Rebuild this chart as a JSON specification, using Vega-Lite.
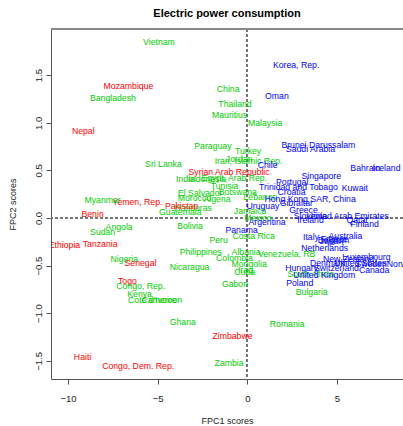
{
  "$schema": "https://vega.github.io/schema/vega-lite/v6.json",
  "autosize": "none",
  "padding": {"left": 51, "top": 29, "right": 0, "bottom": 47},
  "width": 352,
  "height": 350,
  "background": "white",
  "title": {"text": "Electric power consumption", "fontSize": 11, "fontWeight": "bold", "font": "Liberation Sans", "color": "#000", "anchor": "middle", "offset": 10},
  "config": {
    "view": {"stroke": null},
    "font": "Liberation Sans",
    "axis": {"grid": false, "domainColor": "#555", "tickColor": "#555", "tickSize": 5, "labelFont": "Liberation Sans", "labelFontSize": 9.5, "labelColor": "#222", "titleFont": "Liberation Sans", "titleFontSize": 9, "titleFontWeight": "normal", "titleColor": "#222"}
  },
  "data": {"values": [
    {"country": "Vietnam", "x": -4.93, "y": 1.849, "g": "r2"},
    {"country": "Mozambique", "x": -6.63, "y": 1.383, "g": "r1"},
    {"country": "Bangladesh", "x": -7.50, "y": 1.261, "g": "r2"},
    {"country": "Nepal", "x": -9.15, "y": 0.918, "g": "r1"},
    {"country": "Korea, Rep.", "x": 2.72, "y": 1.611, "g": "r3"},
    {"country": "China", "x": -1.07, "y": 1.359, "g": "r2"},
    {"country": "Oman", "x": 1.65, "y": 1.285, "g": "r3"},
    {"country": "Thailand", "x": -0.69, "y": 1.201, "g": "r2"},
    {"country": "Mauritius", "x": -0.99, "y": 1.079, "g": "r2"},
    {"country": "Malaysia", "x": 0.99, "y": 0.995, "g": "r2"},
    {"country": "Brunei Darussalam", "x": 3.96, "y": 0.764, "g": "r3"},
    {"country": "Saudi Arabia", "x": 3.52, "y": 0.722, "g": "r3"},
    {"country": "Paraguay", "x": -1.92, "y": 0.761, "g": "r2"},
    {"country": "Turkey", "x": 0.04, "y": 0.70, "g": "r2"},
    {"country": "Sri Lanka", "x": -4.68, "y": 0.572, "g": "r2"},
    {"country": "Jordan", "x": -0.46, "y": 0.624, "g": "r2"},
    {"country": "Iran, Islamic Rep.", "x": 0.06, "y": 0.596, "g": "r2"},
    {"country": "Chile", "x": 1.13, "y": 0.561, "g": "r3"},
    {"country": "Syrian Arab Republic", "x": -1.02, "y": 0.481, "g": "r1"},
    {"country": "India", "x": -3.46, "y": 0.41, "g": "r2"},
    {"country": "Indonesia", "x": -2.23, "y": 0.41, "g": "r2"},
    {"country": "Egypt, Arab Rep.", "x": -0.73, "y": 0.425, "g": "r2"},
    {"country": "Tunisia", "x": -1.27, "y": 0.334, "g": "r2"},
    {"country": "Botswana", "x": -0.53, "y": 0.275, "g": "r2"},
    {"country": "Lebanon", "x": 0.73, "y": 0.218, "g": "r2"},
    {"country": "El Salvador", "x": -2.63, "y": 0.264, "g": "r2"},
    {"country": "Morocco", "x": -2.95, "y": 0.212, "g": "r2"},
    {"country": "Algeria", "x": -1.69, "y": 0.201, "g": "r2"},
    {"country": "Honduras", "x": -3.03, "y": 0.107, "g": "r2"},
    {"country": "Pakistan", "x": -3.67, "y": 0.131, "g": "r1"},
    {"country": "Guatemala", "x": -3.74, "y": 0.065, "g": "r2"},
    {"country": "Yemen, Rep.", "x": -6.13, "y": 0.170, "g": "r1"},
    {"country": "Myanmar", "x": -8.07, "y": 0.187, "g": "r2"},
    {"country": "Benin", "x": -8.63, "y": 0.044, "g": "r1"},
    {"country": "Angola", "x": -7.15, "y": -0.097, "g": "r2"},
    {"country": "Sudan", "x": -8.07, "y": -0.149, "g": "r2"},
    {"country": "Bolivia", "x": -3.20, "y": -0.079, "g": "r2"},
    {"country": "Ethiopia", "x": -10.2, "y": -0.285, "g": "r1"},
    {"country": "Tanzania", "x": -8.21, "y": -0.268, "g": "r1"},
    {"country": "Nigeria", "x": -6.86, "y": -0.428, "g": "r2"},
    {"country": "Senegal", "x": -5.96, "y": -0.47, "g": "r1"},
    {"country": "Togo", "x": -6.69, "y": -0.663, "g": "r1"},
    {"country": "Congo, Rep.", "x": -5.95, "y": -0.716, "g": "r2"},
    {"country": "Kenya", "x": -6.01, "y": -0.803, "g": "r2"},
    {"country": "Cote d'Ivoire", "x": -5.30, "y": -0.863, "g": "r2"},
    {"country": "Cameroon", "x": -4.77, "y": -0.863, "g": "r2"},
    {"country": "Nicaragua", "x": -3.22, "y": -0.512, "g": "r2"},
    {"country": "Philippines", "x": -2.60, "y": -0.359, "g": "r2"},
    {"country": "Peru", "x": -1.60, "y": -0.233, "g": "r2"},
    {"country": "Ghana", "x": -3.60, "y": -1.089, "g": "r2"},
    {"country": "Haiti", "x": -9.19, "y": -1.456, "g": "r1"},
    {"country": "Congo, Dem. Rep.", "x": -6.09, "y": -1.555, "g": "r1"},
    {"country": "Zimbabwe", "x": -0.83, "y": -1.240, "g": "r1"},
    {"country": "Zambia", "x": -1.02, "y": -1.519, "g": "r2"},
    {"country": "Romania", "x": 2.22, "y": -1.110, "g": "r2"},
    {"country": "Bulgaria", "x": 3.59, "y": -0.774, "g": "r2"},
    {"country": "Poland", "x": 2.92, "y": -0.687, "g": "r3"},
    {"country": "Gabon", "x": -0.69, "y": -0.690, "g": "r2"},
    {"country": "Cuba", "x": -0.15, "y": -0.565, "g": "r2"},
    {"country": "Iraq", "x": -0.10, "y": -0.55, "g": "r2"},
    {"country": "Mongolia", "x": 0.10, "y": -0.488, "g": "r2"},
    {"country": "Colombia", "x": -0.72, "y": -0.425, "g": "r2"},
    {"country": "Albania", "x": -0.07, "y": -0.359, "g": "r2"},
    {"country": "Venezuela, RB", "x": 2.19, "y": -0.376, "g": "r2"},
    {"country": "Costa Rica", "x": 0.35, "y": -0.184, "g": "r2"},
    {"country": "Panama", "x": -0.32, "y": -0.129, "g": "r3"},
    {"country": "Jamaica", "x": 0.15, "y": 0.071, "g": "r2"},
    {"country": "Mexico", "x": 0.59, "y": -0.005, "g": "r2"},
    {"country": "Argentina", "x": 1.10, "y": -0.044, "g": "r3"},
    {"country": "Uruguay", "x": 0.87, "y": 0.131, "g": "r3"},
    {"country": "Gibraltar", "x": 2.73, "y": 0.16, "g": "r3"},
    {"country": "Hong Kong SAR, China", "x": 3.50, "y": 0.20, "g": "r3"},
    {"country": "Croatia", "x": 2.46, "y": 0.27, "g": "r3"},
    {"country": "Trinidad and Tobago", "x": 2.85, "y": 0.323, "g": "r3"},
    {"country": "Portugal", "x": 2.50, "y": 0.38, "g": "r3"},
    {"country": "Singapore", "x": 4.12, "y": 0.439, "g": "r3"},
    {"country": "Kuwait", "x": 5.99, "y": 0.31, "g": "r3"},
    {"country": "Bahrain", "x": 6.58, "y": 0.527, "g": "r3"},
    {"country": "Iceland", "x": 7.76, "y": 0.527, "g": "r3"},
    {"country": "Greece", "x": 3.13, "y": 0.089, "g": "r3"},
    {"country": "Slovenia", "x": 3.52, "y": 0.02, "g": "r3"},
    {"country": "United Arab Emirates", "x": 5.6, "y": 0.019, "g": "r3"},
    {"country": "Ireland", "x": 3.52, "y": -0.023, "g": "r3"},
    {"country": "Qatar", "x": 6.13, "y": -0.026, "g": "r3"},
    {"country": "Finland", "x": 6.54, "y": -0.058, "g": "r3"},
    {"country": "Italy", "x": 3.55, "y": -0.197, "g": "r3"},
    {"country": "Australia", "x": 5.47, "y": -0.184, "g": "r3"},
    {"country": "Belgium", "x": 4.80, "y": -0.23, "g": "r3"},
    {"country": "Japan", "x": 4.70, "y": -0.24, "g": "r3"},
    {"country": "France", "x": 4.85, "y": -0.22, "g": "r3"},
    {"country": "Netherlands", "x": 4.31, "y": -0.315, "g": "r3"},
    {"country": "New Zealand", "x": 5.64, "y": -0.428, "g": "r3"},
    {"country": "Luxembourg", "x": 6.64, "y": -0.411, "g": "r3"},
    {"country": "Denmark", "x": 4.47, "y": -0.477, "g": "r3"},
    {"country": "Switzerland", "x": 4.97, "y": -0.523, "g": "r3"},
    {"country": "United States", "x": 6.3, "y": -0.47, "g": "r3"},
    {"country": "Sweden", "x": 6.9, "y": -0.48, "g": "r3"},
    {"country": "Canada", "x": 7.07, "y": -0.549, "g": "r3"},
    {"country": "Norway", "x": 8.6, "y": -0.488, "g": "r3"},
    {"country": "Hungary", "x": 3.03, "y": -0.530, "g": "r3"},
    {"country": "South Africa", "x": 3.54, "y": -0.586, "g": "r2"},
    {"country": "United Kingdom", "x": 4.29, "y": -0.603, "g": "r3"}
  ]},
  "layer": [
    {
      "mark": {"type": "rule", "color": "#777", "strokeDash": [3, 2], "strokeWidth": 0.7},
      "encoding": {"x": {"datum": 0, "type": "quantitative"}}
    },
    {
      "mark": {"type": "rule", "color": "#777", "strokeDash": [3, 2], "strokeWidth": 0.7},
      "encoding": {"y": {"datum": 0, "type": "quantitative"}}
    },
    {
      "mark": {"type": "rule", "color": "#888", "strokeWidth": 1},
      "encoding": {"y": {"datum": 1.985, "type": "quantitative"}}
    },
    {
      "mark": {"type": "text", "fontSize": 8.7, "font": "Liberation Sans", "align": "center", "baseline": "middle", "clip": true},
      "encoding": {
        "x": {"field": "x", "type": "quantitative", "scale": {"domain": [-10.95, 8.68], "nice": false, "zero": false},
              "axis": {"title": "FPC1 scores", "values": [-10, -5, 0, 5], "labelPadding": 9, "titlePadding": 14}},
        "y": {"field": "y", "type": "quantitative", "scale": {"domain": [-1.691, 1.985], "nice": false, "zero": false},
              "axis": {"title": "FPC2 scores", "values": [-1.5, -1, -0.5, 0, 0.5, 1, 1.5], "format": ".1f", "labelAngle": -90, "labelAlign": "center", "labelBaseline": "bottom", "labelPadding": 3, "titlePadding": 16}},
        "text": {"field": "country"},
        "color": {"field": "g", "type": "nominal", "scale": {"domain": ["r1", "r2", "r3"], "range": ["#FF0000", "#00CD00", "#0000FF"]}, "legend": null}
      }
    }
  ]
}
